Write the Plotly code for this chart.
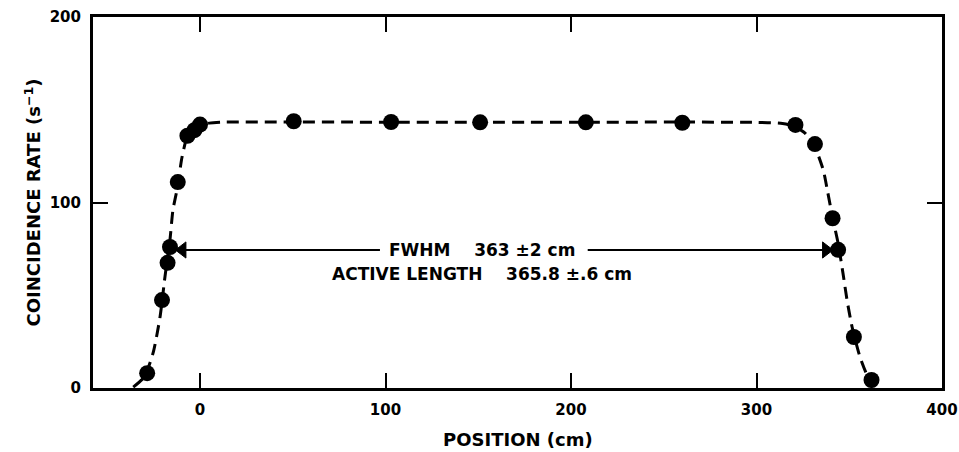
import plotly.graph_objects as go

# measured points
pos_cm = [-28.5, -20.5, -17.5, -16.2, -12.0, -6.8, -3.0, 0.0, 50.5, 103.0, 151.0, 208.0, 260.0, 321.0, 331.5, 341.0, 344.0, 352.5, 362.0]
rate = [8.0, 47.4, 67.5, 76.0, 111.0, 136.0, 139.0, 142.0, 143.8, 143.4, 143.2, 143.2, 143.0, 141.8, 131.5, 91.5, 74.5, 27.5, 4.3]

# fitted curve
curve_x = [-36, -30, -25.3, -21.6, -18.9, -16.2, -14.6, -12.4, -9.7, -7, -3, 0, 5, 12, 100, 200, 300, 314, 320, 326, 331, 336, 338.5, 341, 344, 346.6, 348.8, 351.5, 355.8, 359.6, 363]
curve_y = [0.5, 6, 18.9, 38, 60, 80, 96, 107, 124.5, 135, 139.5, 141.5, 142.8, 143.3, 143.3, 143.3, 143.2, 142.6, 141.2, 137.5, 131, 117.5, 105, 92, 78, 62, 47.4, 33, 16.7, 7, 1.6]

x_ticks = [0, 100, 200, 300, 400]
y_ticks = [0, 100, 200]

fwhm_y = 74.4
fwhm_left = [-9.5, 97]
fwhm_right = [209, 337.5]
fwhm_text = "FWHM\u00a0\u00a0\u00a0\u00a0363 \u00b12 cm"
active_y = 61.5
active_text = "ACTIVE LENGTH\u00a0\u00a0\u00a0\u00a0365.8 \u00b1.6 cm"
text_x = 152

x_title = "POSITION (cm)"
y_title = "COINCIDENCE RATE (s<sup>\u22121</sup>)"

FONT = "DejaVu Sans"

fig = go.Figure()
fig.add_trace(go.Scatter(x=curve_x, y=curve_y, mode="lines",
                         line=dict(color="black", width=3, dash="12px,7px", shape="spline", smoothing=0.6),
                         hoverinfo="skip", showlegend=False))

# FWHM arrows as line segments with triangle heads
fig.add_trace(go.Scatter(x=fwhm_left, y=[fwhm_y, fwhm_y], mode="lines+markers",
                         line=dict(color="black", width=2),
                         marker=dict(symbol=["triangle-left", "line-ns"], size=[14, 0], color="black",
                                     opacity=1, line=dict(width=1, color="black")),
                         hoverinfo="skip", showlegend=False))
fig.add_trace(go.Scatter(x=fwhm_right, y=[fwhm_y, fwhm_y], mode="lines+markers",
                         line=dict(color="black", width=2),
                         marker=dict(symbol=["line-ns", "triangle-right"], size=[0, 14], color="black",
                                     opacity=1, line=dict(width=1, color="black")),
                         hoverinfo="skip", showlegend=False))

fig.add_trace(go.Scatter(x=pos_cm, y=rate, mode="markers",
                         marker=dict(color="black", size=16),
                         showlegend=False))

fig.add_annotation(x=text_x, y=fwhm_y, text=fwhm_text, showarrow=False,
                   font=dict(family=FONT, size=17, color="black", weight="bold"))
fig.add_annotation(x=text_x, y=active_y, text=active_text, showarrow=False,
                   font=dict(family=FONT, size=17, color="black", weight="bold"))

# axis titles placed as paper annotations
fig.add_annotation(x=0.5, y=-0.14, xref="paper", yref="paper", text=x_title, showarrow=False,
                   xanchor="center", yanchor="middle",
                   font=dict(family=FONT, size=18, color="black", weight="bold"))
fig.add_annotation(x=-0.0718, y=0.5, xref="paper", yref="paper", text=y_title, showarrow=False,
                   textangle=-90, xanchor="center", yanchor="middle",
                   font=dict(family=FONT, size=18, color="black", weight="bold"))

axis_common = dict(showline=True, linecolor="black", linewidth=3, mirror="ticks",
                   ticks="inside", ticklen=15, tickwidth=2, tickcolor="black",
                   showgrid=False, zeroline=False, automargin=False,
                   tickfont=dict(family=FONT, size=15, color="black", weight="bold"))

fig.update_xaxes(range=[-57.7, 400], tickvals=x_ticks, ticktext=[str(v) for v in x_ticks],
                 ticklabelstandoff=6, **axis_common)
fig.update_yaxes(range=[0, 200], tickvals=y_ticks, ticktext=[str(v) for v in y_ticks],
                 ticklabelstandoff=6, **axis_common)

fig.update_layout(width=959, height=452, margin=dict(l=93, r=17, t=17, b=64),
                  paper_bgcolor="white", plot_bgcolor="white",
                  font=dict(family=FONT, color="black"))

fig.write_html("out.html")
